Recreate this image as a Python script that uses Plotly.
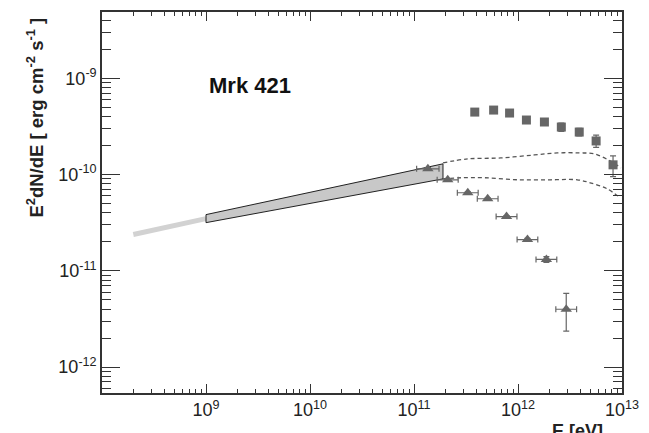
import plotly.graph_objects as go

# ---- data ----
# high state (squares)
sq_E = [3.84e11, 5.83e11, 8.30e11, 1.205e12, 1.795e12, 2.61e12, 3.88e12, 5.64e12, 8.20e12]
sq_F = [4.45e-10, 4.67e-10, 4.35e-10, 3.68e-10, 3.51e-10, 3.11e-10, 2.76e-10, 2.23e-10, 1.26e-10]
sq_err_plus = [0.15e-10, 0.15e-10, 0.15e-10, 0.15e-10, 0.2e-10, 0.3e-10, 0.25e-10, 0.34e-10, 0.30e-10]
sq_err_minus = [0.15e-10, 0.15e-10, 0.15e-10, 0.15e-10, 0.2e-10, 0.3e-10, 0.25e-10, 0.32e-10, 0.31e-10]

# low state (triangles)
tri_E = [1.36e11, 2.11e11, 3.29e11, 5.11e11, 7.76e11, 1.233e12, 1.875e12, 2.91e12]
tri_F = [1.146e-10, 8.81e-11, 6.46e-11, 5.60e-11, 3.65e-11, 2.11e-11, 1.31e-11, 3.98e-12]
tri_err_plus = [0.03e-10, 0.02e-11, 0.15e-11, 0.12e-11, 0.08e-11, 0.06e-11, 0.09e-11, 1.85e-12]
tri_err_minus = [0.03e-10, 0.02e-11, 0.15e-11, 0.12e-11, 0.08e-11, 0.06e-11, 0.09e-11, 1.62e-12]
tri_E_lo = [1.06e11, 1.67e11, 2.61e11, 4.06e11, 6.16e11, 0.98e12, 1.49e12, 2.31e12]
tri_E_hi = [1.74e11, 2.66e11, 4.14e11, 6.43e11, 9.77e11, 1.55e12, 2.36e12, 3.66e12]

# Fermi-like bowtie
bow_E = [1e9, 1.90e11]
bow_up = [3.83e-11, 1.29e-10]
bow_lo = [3.16e-11, 9.0e-11]

# extrapolation to lower energies (thick light grey)
ext_E = [2e8, 1e9]
ext_F = [2.38e-11, 3.48e-11]

# dashed model curves
up_E = [1.90e11, 3.29e11, 6.81e11, 1.439e12, 2.388e12, 3.88e12, 5.40e12, 7.67e12, 9.77e12]
up_F = [1.321e-10, 1.452e-10, 1.486e-10, 1.596e-10, 1.675e-10, 1.675e-10, 1.637e-10, 1.384e-10, 1.172e-10]
lo_E = [1.90e11, 2.82e11, 4.78e11, 9.89e11, 2.046e12, 3.707e12, 4.94e12, 7.18e12, 9.57e12]
lo_F = [9.02e-11, 9.25e-11, 9.25e-11, 8.81e-11, 8.81e-11, 8.81e-11, 8.20e-11, 7.11e-11, 5.74e-11]

x_ticks = [1e9, 1e10, 1e11, 1e12, 1e13]
x_ticktext = ["10<sup>9</sup>", "10<sup>10</sup>", "10<sup>11</sup>", "10<sup>12</sup>", "10<sup>13</sup>"]
y_ticks = [1e-12, 1e-11, 1e-10, 1e-9]
y_ticktext = ["10<sup>-12</sup>", "10<sup>-11</sup>", "10<sup>-10</sup>", "10<sup>-9</sup>"]

x_minor = [m * 10 ** d for d in range(8, 13) for m in range(2, 10)]
y_minor = [m * 10.0 ** d for d in range(-13, -8) for m in range(2, 10)
           if 5.4e-13 < m * 10.0 ** d < 4.9e-9]

FONT = "Liberation Sans, Arial, sans-serif"
MARK = "#666666"

fig = go.Figure()

fig.add_trace(go.Scatter(x=ext_E, y=ext_F, mode="lines",
                         line=dict(color="#d2d2d2", width=5), hoverinfo="skip"))

fig.add_trace(go.Scatter(
    x=[bow_E[0], bow_E[1], bow_E[1], bow_E[0], bow_E[0]],
    y=[bow_up[0], bow_up[1], bow_lo[1], bow_lo[0], bow_up[0]],
    mode="lines", fill="toself", fillcolor="#c8c8c8",
    line=dict(color="#222222", width=1)))

fig.add_trace(go.Scatter(x=up_E, y=up_F, mode="lines", line_shape="spline",
                         line=dict(color="#555555", width=1.3, dash="4px,3px")))
fig.add_trace(go.Scatter(x=lo_E, y=lo_F, mode="lines", line_shape="spline",
                         line=dict(color="#555555", width=1.3, dash="4px,3px")))

fig.add_trace(go.Scatter(
    x=sq_E, y=sq_F, mode="markers",
    marker=dict(symbol="square", size=9, color=MARK),
    error_y=dict(type="data", symmetric=False, array=sq_err_plus, arrayminus=sq_err_minus,
                 color=MARK, thickness=1.2, width=3)))

fig.add_trace(go.Scatter(
    x=tri_E, y=tri_F, mode="markers",
    marker=dict(symbol="triangle-up", size=10, color=MARK),
    error_y=dict(type="data", symmetric=False, array=tri_err_plus, arrayminus=tri_err_minus,
                 color=MARK, thickness=1.2, width=3),
    error_x=dict(type="data", symmetric=False,
                 array=[h - e for h, e in zip(tri_E_hi, tri_E)],
                 arrayminus=[e - l for l, e in zip(tri_E_lo, tri_E)],
                 color=MARK, thickness=1.2, width=3)))

axis_common = dict(
    showline=True, linecolor="#333333", linewidth=1.6, mirror="allticks",
    ticks="inside", tickcolor="#333333", tickwidth=1.2,
    showgrid=False, zeroline=False,
    tickfont=dict(family=FONT, size=18, color="#222222"),
)

fig.update_xaxes(type="log", range=[8, 13], tickmode="array",
                 tickvals=x_ticks, ticktext=x_ticktext, ticklen=9,
                 minor=dict(tickmode="array", tickvals=x_minor, ticks="inside",
                            ticklen=4, tickcolor="#333333", tickwidth=1.2),
                 **axis_common)
fig.update_yaxes(type="log", range=[-12.27, -8.312], tickmode="array",
                 tickvals=y_ticks, ticktext=y_ticktext, ticklen=18,
                 minor=dict(tickmode="array", tickvals=y_minor, ticks="inside",
                            ticklen=9, tickcolor="#333333", tickwidth=1.2),
                 **axis_common)

fig.add_annotation(text="<b>Mrk 421</b>", xref="paper", yref="paper",
                   x=0.201, y=0.806, xanchor="left", yanchor="middle",
                   showarrow=False, font=dict(family=FONT, size=22, color="#111111"))

fig.add_annotation(text="<b>E<sup>2</sup>dN/dE [ erg cm<sup>-2</sup> s<sup>-1</sup> ]</b>",
                   xref="paper", yref="paper", x=-0.128, y=0.724,
                   xanchor="center", yanchor="middle", textangle=-90,
                   showarrow=False, font=dict(family=FONT, size=18.5, color="#222222"))

fig.add_annotation(text="<b>E [eV]</b>", xref="paper", yref="paper",
                   x=0.9675, y=-0.068, xanchor="right", yanchor="top",
                   showarrow=False, font=dict(family=FONT, size=18, color="#222222"))

fig.update_layout(
    width=649, height=433, showlegend=False,
    margin=dict(l=102, r=24, t=10, b=40),
    paper_bgcolor="white", plot_bgcolor="white",
)

fig.write_html("out.html")
